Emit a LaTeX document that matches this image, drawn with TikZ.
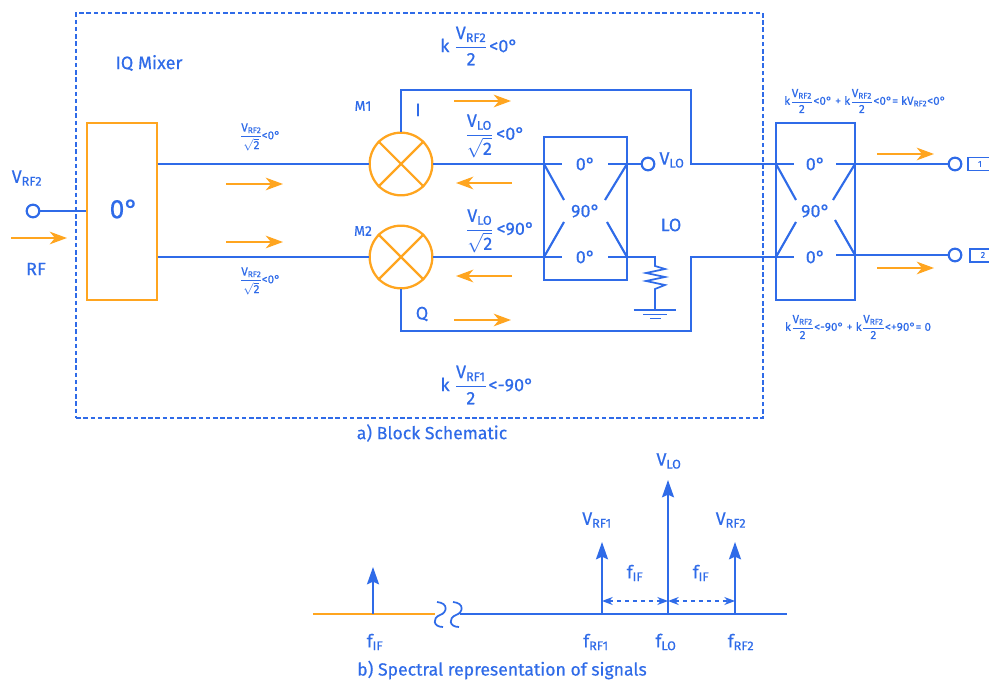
\documentclass[tikz,border=0pt]{standalone}
\usepackage{amsmath,amssymb}
\usepackage{fontspec}
\setmainfont{Fira Sans}[FakeBold=0.45]
\usetikzlibrary{arrows.meta}
\definecolor{rfblue}{HTML}{2F6BE8}
\definecolor{rforange}{HTML}{FFA51F}
\newcommand{\vsig}[2]{\text{#1}_{\text{#2}}}
\tikzset{
  wire/.style={draw=rfblue,line width=1.6pt},
  owire/.style={draw=rforange,line width=1.6pt},
  flow/.style={draw=rforange,line width=1.5pt,-{Stealth[length=13pt,width=9.5pt,inset=4pt]}},
  spike/.style={draw=rfblue,line width=1.6pt,-{Stealth[length=13pt,width=9pt,inset=2pt]}},
  gap/.style={draw=rfblue,line width=1pt,dashed,{Stealth[length=8pt,width=6pt,inset=2.5pt]}-{Stealth[length=8pt,width=6pt,inset=2.5pt]}},
  term/.style={circle,draw=rfblue,line width=1.6pt,fill=white,minimum size=9.5pt,inner sep=0pt},
  mixer/.style={circle,draw=rforange,line width=1.7pt,minimum size=47pt,inner sep=0pt},
  lab/.style={text=rfblue,inner sep=0pt,font=\fontsize{13.5}{16}\selectfont},
  caption/.style={text=rfblue,inner sep=0pt,font=\fontsize{13.2}{16}\selectfont},
  small/.style={text=rfblue,inner sep=0pt,font=\fontsize{8.8}{10}\selectfont},
  mname/.style={text=rfblue,inner sep=0pt,font=\fontsize{10.5}{12}\selectfont},
  big/.style={text=rfblue,inner sep=0pt,font=\fontsize{20}{24}\selectfont},
  tiny/.style={text=rfblue,inner sep=0pt,font=\fontsize{6.5}{7}\selectfont}
}
\begin{document}
\begin{tikzpicture}[x=0.75pt,y=-0.75pt]
  \useasboundingbox (0,0) rectangle (989,680);

  % block schematic
  \node[draw=rfblue,line width=1.4pt,dash pattern=on 3.4pt off 2pt,minimum width=515pt,minimum height=304pt,inner sep=0pt] (frame) at (419.5,215.5) {};
  \node[draw=rforange,line width=1.6pt,minimum width=52pt,minimum height=133pt,inner sep=0pt] (split) at (122,211.5) {};
  \node[big] (splitang) at (124,209) {0°};
  \node[term] (rfin) at (33,211) {};
  \draw[wire] (rfin) -- (rfin -| split.west);
  \node[lab] (rfv) at (27,178) {\(\vsig{V}{RF2}\)};
  \node[lab] (rflab) at (36,269) {RF};
  \node[lab] (title) at (149,63) {IQ Mixer};

  % mixers
  \node[mixer] (mixa) at (401,164) {};
  \node[mixer] (mixb) at (401,257) {};
  \foreach \mx in {mixa,mixb} {
    \draw[owire] (\mx.45) -- (\mx.225);
    \draw[owire] (\mx.135) -- (\mx.315);
  }
  \node[mname] (mxa) at (363,106) {M1};
  \node[mname] (mxb) at (363,231) {M2};
  \node[lab] (ilab) at (418,110) {I};
  \node[lab] (qlab) at (422,314) {Q};
  \draw[wire] (split.east |- mixa.west) -- (mixa.west);
  \draw[wire] (split.east |- mixb.west) -- (mixb.west);

  % the two hybrids
  \foreach \hy/\hx/\hc/\hw/\hh/\hd in {hlo/585.5/208.5/41.5/143/257,hout/815.5/211.5/39.5/177/255} {
    \node[draw=rfblue,line width=1.6pt,minimum width={2*\hw*0.75pt},minimum height={\hh*0.75pt},inner sep=0pt] (\hy) at (\hx,\hc) {};
    \coordinate (\hy-a) at ({\hx-\hw},164);
    \coordinate (\hy-b) at ({\hx+\hw},164);
    \coordinate (\hy-c) at ({\hx-\hw},257);
    \coordinate (\hy-d) at ({\hx+\hw},\hd);
    \node[lab] (\hy-top) at (\hx,164) {0°};
    \node[lab] (\hy-mid) at (\hx,211) {90°};
    \node[lab] (\hy-bot) at (\hx,257) {0°};
    \draw[wire] (\hy-a) -- ++(17.5,0);
    \draw[wire] (\hy-c) -- ++(17.5,0);
    \draw[wire] (\hy-b) -- ++(-19.5,0);
    \draw[wire] (\hy-d) -- ++(-19.5,0);
    \draw[wire] (\hy-a) -- ++(20,36);
    \draw[wire] (\hy-b) -- ++(-22,36);
    \draw[wire] (\hy-c) -- ++(20,-35);
    \draw[wire] (\hy-d) -- ++(-20,-35);
  }

  % i and q paths
  \draw[wire] (mixa.north) |- (691,90) |- (hout-a);
  \draw[wire] (mixb.south) |- (691,331) |- (hout-c);
  \draw[wire] (mixa.east) -- (hlo-a);
  \draw[wire] (mixb.east) -- (hlo-c);

  % lo port and load
  \node[term] (lo) at (648,164) {};
  \draw[wire] (hlo-b) -- (lo);
  \node[lab] (lov) at (672,160) {\(\vsig{V}{LO}\)};
  \node[lab] (lolab) at (671,225) {LO};
  \coordinate (gnd) at (655,310);
  \draw[wire,line width=1.3pt] (hlo-d) -- (655,257) -- (655,266) -- (665,269) -- (646,273) -- (665,277) -- (646,281) -- (665,285) -- (655,289) -- (gnd);
  \draw[wire,line width=1.3pt] ([xshift=-16pt]gnd) -- ([xshift=16pt]gnd);
  \draw[wire,line width=1.3pt] (643,314.5) -- (667,314.5);
  \draw[wire,line width=1.3pt] (650,318.5) -- (661,318.5);

  % output ports
  \node[term] (outa) at (955,164) {};
  \node[term] (outb) at (955,255) {};
  \draw[wire] (hout-b) -- (outa);
  \draw[wire] (hout-d) -- (outb);
  \node[draw=rfblue,line width=1.2pt,minimum width=19pt,minimum height=10pt,inner sep=0pt] (porta) at (980.5,164) {};
  \node[draw=rfblue,line width=1.2pt,minimum width=18pt,minimum height=10pt,inner sep=0pt] (portb) at (982,255.5) {};
  \node[tiny] (portanum) at (980,164) {1};
  \node[tiny] (portbnum) at (983,255) {2};

  % signal directions
  \draw[flow] (11,238) -- (67,238);
  \foreach \ya in {184,242} {
    \draw[flow] (226,\ya) -- (283,\ya);
  }
  \foreach \yb in {101,320} {
    \draw[flow] (454,\yb) -- (511,\yb);
  }
  \foreach \yc in {183,276} {
    \draw[flow] (512,\yc) -- (456,\yc);
  }
  \foreach \yd in {154,268} {
    \draw[flow] (877,\yd) -- (934,\yd);
  }

  % level labels
  \node[small] (rfupper) at (260,137) {\(\dfrac{\vsig{V}{RF2}}{\sqrt{\text{2}}}\)\kern-1pt<0°};
  \node[small] (rflower) at (260,281) {\(\dfrac{\vsig{V}{RF2}}{\sqrt{\text{2}}}\)\kern-1pt<0°};
  \node[lab] (loupper) at (495,136) {\(\dfrac{\vsig{V}{LO}}{\sqrt{\text{2}}}\)\kern2pt<0°};
  \node[lab] (lolower) at (500,231) {\(\dfrac{\vsig{V}{LO}}{\sqrt{\text{2}}}\)\kern2pt<90°};
  \node[lab] (iflevel) at (479,46) {k \(\dfrac{\vsig{V}{RF2}}{\text{2}}\)\kern1pt<0°};
  \node[lab] (qflevel) at (487,385) {k \(\dfrac{\vsig{V}{RF1}}{\text{2}}\)\kern1pt<-90°};
  \node[small] (sumtop) at (865,101) {k\(\dfrac{\vsig{V}{RF2}}{\text{2}}\)<0° + k\(\dfrac{\vsig{V}{RF2}}{\text{2}}\)<0°= k\(\vsig{V}{RF2}\)<0°};
  \node[small] (sumbot) at (858,327) {k\(\dfrac{\vsig{V}{RF2}}{\text{2}}\)<-90° + k\(\dfrac{\vsig{V}{RF2}}{\text{2}}\)<+90°= 0};
  \node[caption] (capa) at (432,433) {a) Block Schematic};

  % spectrum
  \coordinate (axa) at (313,614);
  \coordinate (axb) at (435,614);
  \coordinate (axc) at (460,614);
  \coordinate (axd) at (787,614);
  \draw[owire] (axa) -- (axb);
  \draw[wire] (axc) -- (axd);
  \draw[wire,line width=1.3pt] (437,602) .. controls (449,603) and (447,613) .. (440,615) .. controls (432,618) and (433,627) .. (443,627);
  \draw[wire,line width=1.3pt] (453,602) .. controls (465,603) and (463,613) .. (456,615) .. controls (448,618) and (449,627) .. (459,627);
  \foreach \sx/\stop/\sname in {373/567/sif,602/542/srfa,668/480/slo,735/542/srfb} {
    \coordinate (\sname-b) at (\sx,614);
    \coordinate (\sname-t) at (\sx,\stop);
    \draw[spike] (\sname-b) -- (\sname-t);
  }
  \draw[gap] (srfa-b |- 0,601) -- (slo-b |- 0,601);
  \draw[gap] (slo-b |- 0,601) -- (srfb-b |- 0,601);
  \node[lab] (vlo) at (669,461) {\(\vsig{V}{LO}\)};
  \node[lab] (vrfa) at (597,520) {\(\vsig{V}{RF1}\)};
  \node[lab] (vrfb) at (731,520) {\(\vsig{V}{RF2}\)};
  \node[lab] (gapa) at (635,573) {\(\vsig{f}{IF}\)};
  \node[lab] (gapb) at (701,573) {\(\vsig{f}{IF}\)};
  \node[lab] (fif) at (375,642) {\(\vsig{f}{IF}\)};
  \node[lab] (frfa) at (596,642) {\(\vsig{f}{RF1}\)};
  \node[lab] (flo) at (666,642) {\(\vsig{f}{LO}\)};
  \node[lab] (frfb) at (741,642) {\(\vsig{f}{RF2}\)};
  \node[caption] (capb) at (502,670) {b) Spectral representation of signals};
\end{tikzpicture}
\end{document}
